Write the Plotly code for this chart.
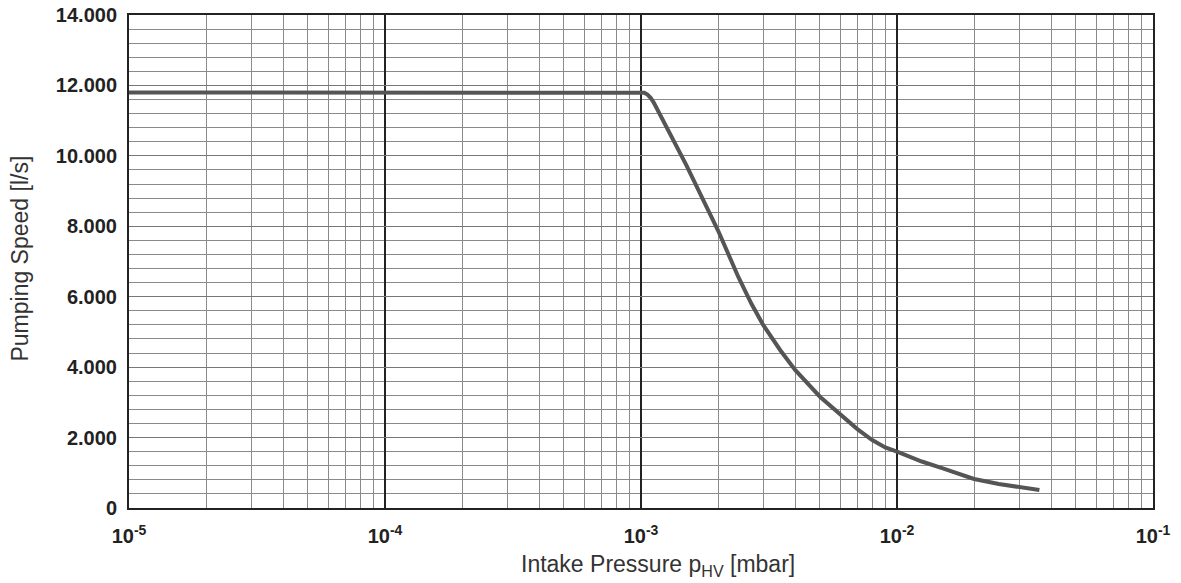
import plotly.graph_objects as go

pressure = [1e-5, 1e-4, 1e-3, 1.03e-3, 1.06e-3, 1.09e-3, 1.12e-3, 1.5e-3, 2e-3, 2.4e-3, 2.7e-3,
            3e-3, 3.5e-3, 4e-3, 5e-3, 6e-3, 7e-3, 8e-3, 9e-3, 1e-2, 1.25e-2, 1.5e-2, 1.75e-2,
            2e-2, 2.5e-2, 3e-2, 3.6e-2]
speed = [11800, 11800, 11800, 11790, 11740, 11650, 11520, 9750, 7880, 6560, 5800,
         5200, 4480, 3920, 3160, 2670, 2240, 1930, 1720, 1600, 1320, 1130, 960,
         824, 680, 590, 510]

y_ticks = [0, 2000, 4000, 6000, 8000, 10000, 12000, 14000]
y_labels = ["0", "2.000", "4.000", "6.000", "8.000", "10.000", "12.000", "14.000"]
x_ticks = [1e-5, 1e-4, 1e-3, 1e-2, 1e-1]
x_labels = ["10<sup>-5</sup>", "10<sup>-4</sup>", "10<sup>-3</sup>", "10<sup>-2</sup>", "10<sup>-1</sup>"]
x_minor = [m * 10 ** e for e in range(-5, -1) for m in range(2, 10)]

fig = go.Figure()
fig.add_trace(go.Scatter(x=pressure, y=speed, mode="lines",
                         line=dict(color="#555555", width=4),
                         hoverinfo="skip", showlegend=False))

tick_font = dict(family="Liberation Sans, Arial, sans-serif", size=20, color="#222222", weight="bold")
fig.update_layout(
    width=1181, height=583,
    margin=dict(l=129, r=28, t=15, b=75),
    paper_bgcolor="white", plot_bgcolor="white",
    font=dict(family="Liberation Sans, Arial, sans-serif"),
    xaxis=dict(type="log", range=[-5, -1], tickmode="array", tickvals=x_ticks, ticktext=x_labels,
               tickfont=tick_font, ticks="", ticklabelstandoff=9, automargin=False,
               showgrid=True, gridcolor="#222222", gridwidth=1.6,
               minor=dict(tickmode="array", tickvals=x_minor, showgrid=True, gridcolor="#8a8a8a",
                          gridwidth=1, ticks=""),
               showline=True, linecolor="#222222", linewidth=2, mirror=True, zeroline=False),
    yaxis=dict(range=[0, 14000], tickmode="array", tickvals=y_ticks, ticktext=y_labels,
               tickfont=tick_font, ticks="", ticklabelstandoff=6, automargin=False,
               showgrid=True, gridcolor="#777777", gridwidth=1,
               minor=dict(dtick=400, showgrid=True, gridcolor="#8a8a8a", gridwidth=1, ticks=""),
               showline=True, linecolor="#222222", linewidth=2, mirror=True, zeroline=False),
    annotations=[
        dict(text="Intake Pressure p<sub>HV</sub> [mbar]", xref="paper", yref="paper",
             x=0.5166, y=0, xanchor="center", yanchor="middle", yshift=-57, showarrow=False,
             font=dict(size=23, color="#333333")),
        dict(text="Pumping Speed [l/s]", xref="paper", yref="paper", x=0, y=0.506,
             xanchor="center", yanchor="middle", xshift=-109, textangle=-90, showarrow=False,
             font=dict(size=23, color="#333333")),
    ],
)
fig.write_html("out.html", config={"displayModeBar": False},
               post_script="document.body.style.margin='0';")
